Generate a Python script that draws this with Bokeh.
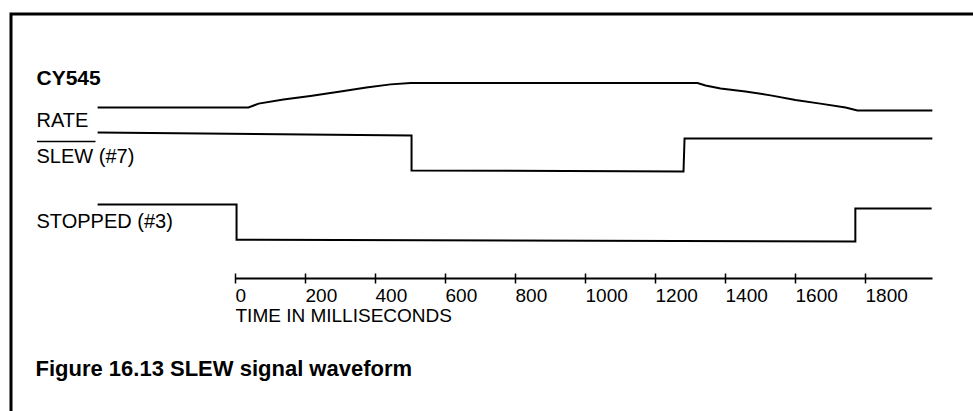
from bokeh.plotting import figure
from bokeh.models import Range1d, LinearAxis, FixedTicker, Label, ColumnDataSource
from bokeh.core.properties import value
from bokeh.embed import file_html
from bokeh.resources import INLINE

# ---------------- data ----------------
TICKS = [0, 200, 400, 600, 800, 1000, 1200, 1400, 1600, 1800]
TICK_LABELS = ["0", "200", "400", "600", "800", "1000", "1200", "1400", "1600", "1800"]
AXIS_END_MS = 1990

# RATE (normalised 0..1)
RATE_T = [-394, 37, 66, 137, 214, 300, 374, 443, 500, 1320, 1343, 1386, 1457, 1529, 1600, 1671, 1743, 1777, 1991]
RATE_V = [0.11, 0.11, 0.25, 0.40, 0.53, 0.69, 0.84, 0.95, 1.00, 1.00, 0.91, 0.80, 0.69, 0.55, 0.38, 0.25, 0.11, 0.00, 0.00]

# SLEW (#7) (normalised logic level)
SLEW_T = [-394, 503, 503, 1280, 1283, 1991]
SLEW_V = [1.08, 1.00, 0.03, 0.00, 0.92, 0.92]

# STOPPED (#3) (normalised logic level)
STOP_T = [-394, 3, 3, 1771, 1771, 1989]
STOP_V = [1.00, 1.00, 0.05, 0.00, 0.89, 0.89]

SIGNAL_NAMES = ["RATE", "SLEW (#7)", "STOPPED (#3)"]

# ---------------- layout constants (page pixels) ----------------
W, H = 973, 411
X0, Y0 = 0, 0          # page position of the figure
ORIGIN_PX = 235.0      # x pixel of t = 0 ms
PX_PER_MS = 0.35
TEXT_DY = 0.4          # baseline correction (em) for the svg text placement


def px2ms(px):
    return (px - ORIGIN_PX) / PX_PER_MS


def tb(row, size_px):
    return row - TEXT_DY * size_px


# lanes: (baseline row, height in rows)
RATE_LANE = (110.0, 27.5)
SLEW_LANE = (171.0, 36.0)
STOP_LANE = (241.0, 37.0)


def lane(vals, ln):
    base, h = ln
    return [base - v * h for v in vals]


p = figure(width=W, height=H, output_backend="svg", toolbar_location=None,
           x_axis_type=None, y_axis_type=None,
           x_range=Range1d(px2ms(X0), px2ms(X0 + W)),
           y_range=Range1d(Y0 + H, Y0),
           min_border=0, min_border_left=0, min_border_right=0,
           min_border_top=0, min_border_bottom=0)
p.outline_line_color = None
p.background_fill_color = "white"
p.border_fill_color = "white"
p.grid.visible = False
p.extra_x_ranges = {"px": Range1d(X0, X0 + W)}

# frame (top + left rule)
p.line(x=[X0 + W, 10.5, 10.5], y=[13.5, 13.5, Y0 + H], x_range_name="px",
       line_color="black", line_width=3, line_join="miter")

# waveforms
for t, v, ln in [(RATE_T, RATE_V, RATE_LANE), (SLEW_T, SLEW_V, SLEW_LANE), (STOP_T, STOP_V, STOP_LANE)]:
    p.line(x=t, y=lane(v, ln), line_color="black", line_width=2, line_join="miter")

# time axis (line + ticks; labels drawn left-aligned below)
ax = LinearAxis(ticker=FixedTicker(ticks=TICKS), bounds=(0, AXIS_END_MS), fixed_location=278,
                major_tick_in=5, major_tick_out=5, minor_tick_in=0, minor_tick_out=0,
                axis_line_width=2, axis_line_color="black",
                major_tick_line_width=1.5, major_tick_line_color="black",
                major_label_text_color=None)
p.add_layout(ax, "below")

src = ColumnDataSource(dict(x=TICKS, y=[tb(303, 19)] * len(TICKS), text=TICK_LABELS))
p.text(x="x", y="y", text="text", source=src, text_align="left", text_baseline="alphabetic",
       text_font=value("Liberation Sans"), text_font_size="19px", text_color="black")


def lab(x, y, text, size, bold=False):
    p.add_layout(Label(x=x, y=tb(y, size), x_range_name="px", text=text, text_font="Liberation Sans",
                       text_font_size=f"{size}px", text_font_style="bold" if bold else "normal",
                       text_align="left", text_baseline="alphabetic", text_color="black"))


lab(36, 85, "CY545", 21, bold=True)
lab(36, 127, SIGNAL_NAMES[0], 20)
lab(36, 163, SIGNAL_NAMES[1], 20)
lab(36, 228, SIGNAL_NAMES[2], 20)
lab(235, 323, "TIME IN MILLISECONDS", 19)
lab(35, 377, "Figure 16.13 SLEW signal waveform", 22, bold=True)

# overline on SLEW
p.segment(x0=[36.5], x1=[95], y0=[141], y1=[141], x_range_name="px", line_color="black", line_width=1.5)

open("out.html", "w").write(file_html(p, INLINE))
